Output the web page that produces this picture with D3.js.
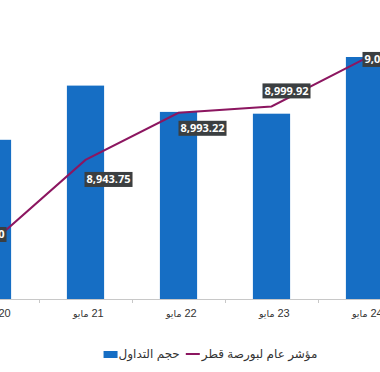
<!DOCTYPE html>
<html>
<head>
<meta charset="utf-8">
<script src="https://cdn.jsdelivr.net/npm/d3@7"></script>
<style>
  body { margin: 0; background: #fff; overflow: hidden; }
  svg { display: block; font-family: "Liberation Sans", "DejaVu Sans", Arial, sans-serif; }
</style>
</head>
<body>
<svg></svg>
<script>
const size = {w: 380, h: 372};
const svg = d3.select('svg');

svg.attr('width', size.w)
    .attr('height', size.h);

// days shown on the x axis
const days = ['20 مايو', '21 مايو', '22 مايو', '23 مايو', '24 مايو'];
// trading volume (bars)
const volume = [159.2, 213.4, 187.1, 185.3, 242.0];
// Qatar exchange general index (line)
const index = [8857.70, 8943.75, 8993.22, 8999.92, 9049.70];
// where each value label sits relative to its point
const labelPlace = [[-34, -15], [-1, 12], [0, 8], [-9, -23], [-2, -7]];

const legendNames = ['حجم التداول', 'مؤشر عام لبورصة قطر'];

const barColor = '#166ec4';
const lineColor = '#8c1660';
const baseY = 299;

// the plot runs past the window on both sides
const x = d3.scaleBand()
    .domain(days)
    .range([-54, 411])
    .paddingInner(0.6)
    .paddingOuter(0.3);

const yBar = d3.scaleLinear()
    .domain([0, 300])
    .range([baseY, -1]);

const yLine = d3.scaleLinear()
    .domain([8800, 9100])
    .range([297, 11]);

// bars
svg.append('g')
    .selectAll('rect')
    .data(volume)
    .enter()
    .append('rect')
    .attr('x', (d, i) => x(days[i]))
    .attr('y', d => yBar(d))
    .attr('width', x.bandwidth())
    .attr('height', d => baseY - yBar(d))
    .attr('fill', barColor);

// x axis: baseline, ticks between categories, labels
let axis = svg.append('g');
axis.append('line')
    .attr('x1', 0).attr('x2', size.w)
    .attr('y1', baseY + 0.5).attr('y2', baseY + 0.5)
    .attr('stroke', '#c8c8c8');

axis.selectAll('line.tick')
    .data(days.slice(1))
    .enter()
    .append('line')
    .classed('tick', true)
    .attr('x1', d => Math.round(x(d) - x.step() * 0.3) + 0.5)
    .attr('x2', d => Math.round(x(d) - x.step() * 0.3) + 0.5)
    .attr('y1', baseY).attr('y2', baseY + 4)
    .attr('stroke', '#c8c8c8');

// day label: month word on the left, day number on the right
let dayLabels = axis.selectAll('g.day')
    .data(days)
    .enter()
    .append('g')
    .classed('day', true)
    .attr('transform', d => 'translate(' + (x(d) + x.bandwidth() / 2) + ',317)');

dayLabels.append('text')
    .attr('x', 3)
    .attr('text-anchor', 'end')
    .style('font-family', '"DejaVu Sans", sans-serif')
    .style('font-size', '9.5px')
    .attr('fill', '#333')
    .text(d => d.split(' ')[1]);

dayLabels.append('text')
    .attr('x', 6)
    .attr('text-anchor', 'start')
    .style('font-size', '11px')
    .attr('fill', '#333')
    .text(d => d.split(' ')[0]);

// index line
const cx = i => x(days[i]) + x.bandwidth() / 2;
const line = d3.line()
    .x((d, i) => cx(i))
    .y(d => yLine(d));

svg.append('path')
    .datum(index)
    .attr('d', line)
    .attr('fill', 'none')
    .attr('stroke', lineColor)
    .attr('stroke-width', 2);

// value labels
let labels = svg.append('g')
    .selectAll('g')
    .data(index)
    .enter()
    .append('g')
    .attr('transform', (d, i) => 'translate(' + (cx(i) + labelPlace[i][0]) + ',' + (yLine(d) + labelPlace[i][1]) + ')');

let labelText = labels.append('text')
    .attr('y', 11.5)
    .attr('fill', '#fff')
    .style('font-family', '"Open Sans", sans-serif')
    .style('font-size', '11px')
    .style('font-weight', 'bold')
    .text(d => d3.format(',.2f')(d));

labelText.each(function () {
    let w = this.getComputedTextLength();
    d3.select(this).attr('x', 2);
    d3.select(this.parentNode).insert('rect', 'text')
        .attr('width', w + 4)
        .attr('height', 15)
        .attr('fill', '#3b3f41');
});

// legend
let legend = svg.append('g');
let item1 = legend.append('g');
item1.append('rect')
    .attr('x', 0).attr('y', -7)
    .attr('width', 14).attr('height', 7)
    .attr('fill', barColor);
let t1 = item1.append('text')
    .attr('x', 15)
    .attr('y', 0)
    .style('font-size', '12px')
    .attr('fill', '#333')
    .text(legendNames[0]);

let w1 = t1.node().getComputedTextLength();
let item2 = legend.append('g')
    .attr('transform', 'translate(' + (15 + w1 + 6) + ',0)');
item2.append('line')
    .attr('x1', 0).attr('x2', 14)
    .attr('y1', -4).attr('y2', -4)
    .attr('stroke', lineColor)
    .attr('stroke-width', 2);
let t2 = item2.append('text')
    .attr('x', 16)
    .attr('y', 0)
    .style('font-size', '12px')
    .attr('fill', '#333')
    .text(legendNames[1]);

let total = 15 + w1 + 6 + 16 + t2.node().getComputedTextLength();
legend.attr('transform', 'translate(' + (210.5 - total / 2) + ',358)');
</script>
</body>
</html>
